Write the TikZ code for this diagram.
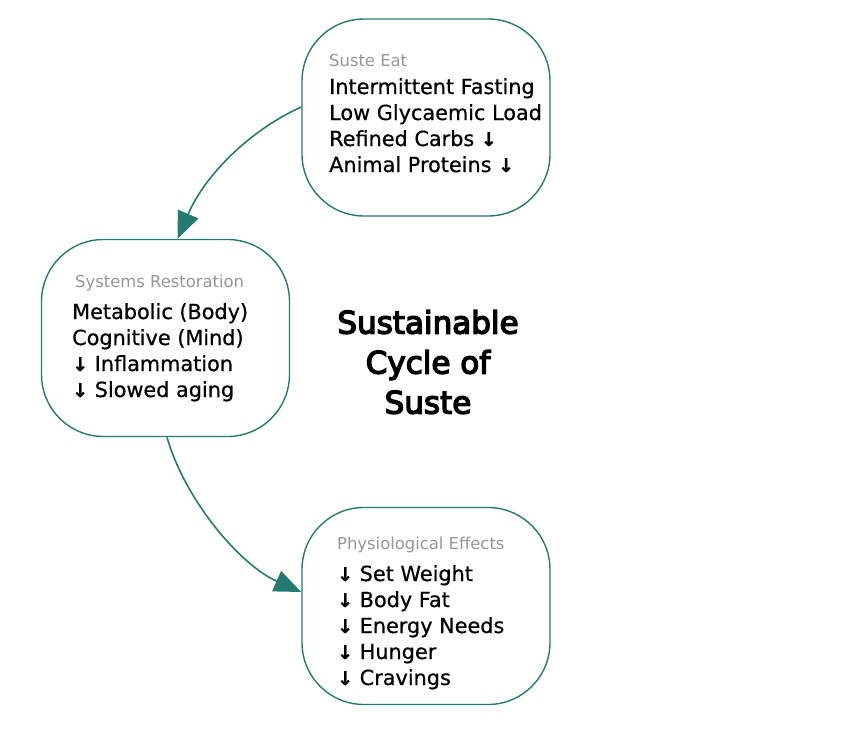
\documentclass[tikz,border=0pt]{standalone}
\usepackage{fontspec}
\setmainfont{DejaVu Sans}
\newfontfamily\titlefont[FakeBold=4.5]{DejaVu Sans}
\newfontfamily\bodyfont[FakeBold=0.6]{DejaVu Sans}
\usetikzlibrary{arrows.meta}
\definecolor{teal1}{RGB}{36,124,110}
\definecolor{gray1}{RGB}{150,150,150}
\newcommand{\dn}{{\fontsize{19}{20}\selectfont\bfseries ↓}}
\tikzset{
  roundbox/.style={draw=teal1, line width=1.4pt, rounded corners=62pt, minimum width=248pt, minimum height=197pt, fill=white},
  body/.style={anchor=north west, align=left, font=\bodyfont\fontsize{20.8}{26}\selectfont, inner sep=0pt},
  head/.style={anchor=west, text=gray1, font=\fontsize{16.4}{18}\selectfont, inner sep=0pt},
  conn/.style={draw=teal1, line width=1.6pt, -{Triangle[length=27pt,width=22pt]}}
}
\begin{document}
\begin{tikzpicture}[x=1pt,y=-1pt]
\useasboundingbox (0,0) rectangle (844,731);
\node[roundbox] (top) at (426,117.5) {};
\node[roundbox] (mid) at (165.5,338) {};
\node[roundbox] (bot) at (426,606) {};
\node[head] (toph) at (329,61) {Suste Eat};
\node[body] (topb) at (329,78) {Intermittent Fasting\\Low Glycaemic Load\\Refined Carbs \dn\\Animal Proteins \dn};
\node[head] (midh) at (75,283) {Systems Restoration};
\node[body] (midb) at (72,303) {Metabolic (Body)\\Cognitive (Mind)\\\dn\ Inflammation\\\dn\ Slowed aging};
\node[head] (both) at (337,545) {Physiological Effects};
\node[body] (botb) at (337,565) {\dn\ Set Weight\\\dn\ Body Fat\\\dn\ Energy Needs\\\dn\ Hunger\\\dn\ Cravings};
\node[align=center, font=\titlefont\fontsize{31}{40}\selectfont] (title) at (428,362) {Sustainable\\Cycle of\\Suste};
\draw[conn] ([yshift=10.5pt]top.west) .. controls (250,130) and (205,175) .. ([xshift=12pt]mid.north);
\draw[conn] ([xshift=1.5pt]mid.south) .. controls (185,500) and (240,565) .. ([yshift=14pt]bot.west);
\end{tikzpicture}
\end{document}
